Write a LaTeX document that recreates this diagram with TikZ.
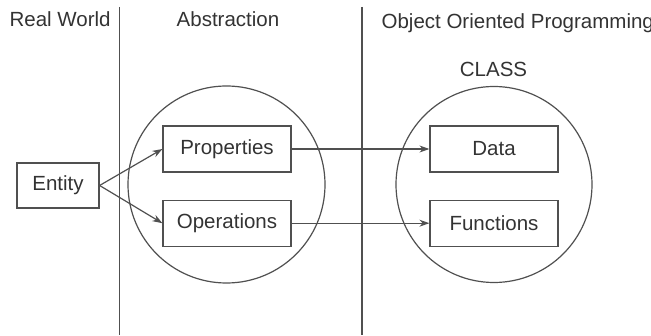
\documentclass[tikz,border=0pt]{standalone}
\usepackage{fontspec}
\setmainfont{Liberation Sans}
\usetikzlibrary{positioning}
\usetikzlibrary{arrows.meta}
\definecolor{linegray}{HTML}{505050}
\definecolor{textgray}{HTML}{333333}
\tikzset{every picture/.style={line width=1.2pt,color=linegray,x=1pt,y=1pt},
box/.style={draw,text=textgray,minimum width=128pt,minimum height=46pt,inner sep=0pt,font=\fontsize{20.5}{24}\selectfont},
heading/.style={text=textgray,inner sep=0pt,font=\fontsize{20.5}{24}\selectfont},
arr/.style={-{Stealth[length=10pt,width=7pt]}}}

\begin{document}
\begin{tikzpicture}
\useasboundingbox (0,0) rectangle (651,335);
\node (world) [heading, anchor=base west] at (9,308) {Real World};
\node (abstr) [heading, anchor=base] at (228,308) {Abstraction};
\node (oop) [heading, anchor=base west] at (381,306) {Object Oriented Programming};
\node (class) [heading, anchor=base] at (493.5,258) {CLASS};

\coordinate (sep1top) at (119.5,328);
\coordinate (sep1bot) at (119.5,0);
\coordinate (sep2top) at (362,328);
\coordinate (sep2bot) at (362,0);
\draw (sep1top) -- (sep1bot);
\draw (sep2top) -- (sep2bot);

\node (abscirc) [circle, draw, minimum size=197pt] at (226.5,150.5) {};
\node (clscirc) [circle, draw, minimum size=196pt] at (494,150.5) {};

\node (ent) [box, minimum width=82pt, minimum height=45pt] at (58,149.5) {Entity};
\node (prop) [box] at (227,186) {Properties};
\node (oper) [box, below=27pt of prop] {Operations};
\node (data) [box] at (494,186) {Data};
\node (func) [box, below=27pt of data] {Functions};

\draw[arr] (ent.east) -- (prop.west);
\draw[arr] (ent.east) -- (oper.west);
\draw[arr] (prop) -- (data);
\draw[arr] (oper) -- (func);
\end{tikzpicture}
\end{document}
